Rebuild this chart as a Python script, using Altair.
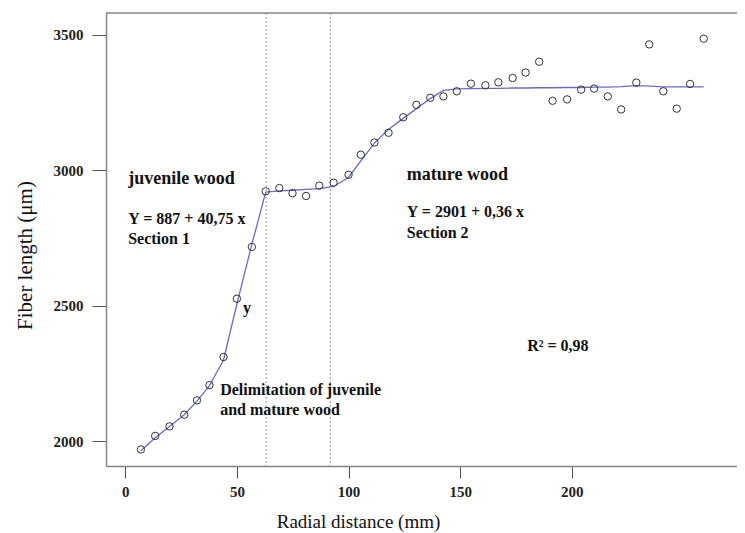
import altair as alt
import pandas as pd

# ---- data ----
radial_mm = [7.0, 13.4, 19.8, 26.4, 32.1, 37.7, 44.0, 50.0, 56.7, 62.9,
             69.0, 74.9, 81.0, 86.9, 93.3, 100.0, 105.5, 111.6, 117.9, 124.5,
             130.4, 136.6, 142.5, 148.5, 154.8, 161.3, 167.1, 173.5, 179.3, 185.4,
             191.4, 197.9, 204.2, 210.0, 216.1, 222.1, 228.9, 234.7, 241.0, 247.0,
             253.0, 259.1]
fiber_um = [1970, 2020, 2055, 2098, 2151, 2207, 2311, 2526, 2717, 2922,
            2934, 2915, 2905, 2943, 2954, 2983, 3057, 3102, 3138, 3195,
            3241, 3267, 3272, 3291, 3319, 3313, 3324, 3340, 3360, 3400,
            3256, 3261, 3297, 3301, 3272, 3224, 3323, 3464, 3291, 3227,
            3318, 3485]
fitted_um = [1965, 2013, 2055, 2098, 2148, 2205, 2300, 2507, 2727, 2919,
             2924, 2926, 2929, 2932, 2940, 2973, 3034, 3100, 3150, 3191,
             3227, 3264, 3294, 3300, 3301, 3302, 3302, 3303, 3303, 3304,
             3304, 3305, 3305, 3306, 3306, 3308, 3312, 3310, 3307, 3307,
             3307, 3307]
delimitation_mm = [63.1, 91.8]

x_ticks = [0, 50, 100, 150, 200]
y_ticks = [2000, 2500, 3000, 3500]

big_labels = ["juvenile wood", "mature wood"]
big_x = [1.3, 126.1]
big_y = [2950, 2965]

small_labels = ["Y = 887 + 40,75 x", "Section 1", "y", "Delimitation of juvenile",
                "and mature wood", "Y = 2901 + 0,36 x", "Section 2", "R\u00b2 = 0,98"]
small_x = [1.3, 1.3, 52.7, 42.5, 42.5, 126.1, 126.1, 180.0]
small_y = [2800, 2729, 2472, 2172, 2096, 2827, 2748, 2332]

W, H = 631, 453
FONT = "Liberation Serif"

pts = pd.DataFrame({"x": radial_mm, "y": fiber_um})
fit = pd.DataFrame({"x": radial_mm, "y": fitted_um})
vl = pd.DataFrame({"x": delimitation_mm})
bigdf = pd.DataFrame({"x": big_x, "y": big_y, "t": big_labels})
smalldf = pd.DataFrame({"x": small_x, "y": small_y, "t": small_labels})

xscale = alt.Scale(domain=[-8.64, 274.0], nice=False, zero=False)
yscale = alt.Scale(domain=[1908.9, 3579.7], nice=False, zero=False)

xaxis = alt.Axis(values=x_ticks, format="d", title="Radial distance (mm)", grid=False,
                 domainColor="#858585", domainWidth=1.5, tickColor="#555",
                 tickSize=12, tickWidth=1, labelFont=FONT, labelFontSize=15,
                 labelFontWeight="bold", labelColor="#222", labelPadding=6,
                 titleFont=FONT, titleFontSize=19, titleFontWeight="normal",
                 titleColor="#111", titleX=252, titleY=55, titleAlign="center",
                 titleBaseline="middle")
yaxis = alt.Axis(values=y_ticks, format="d", title="Fiber length (\u03bcm)", grid=False,
                 domainColor="#858585", domainWidth=1.5, tickColor="#555",
                 tickSize=14, tickWidth=1, labelFont=FONT, labelFontSize=15,
                 labelFontWeight="bold", labelColor="#222", labelPadding=9,
                 titleFont=FONT, titleFontSize=21, titleFontWeight="normal",
                 titleColor="#111", titleX=-81, titleY=242, titleAlign="center",
                 titleBaseline="middle", titleAngle=270)

points = alt.Chart(pts).mark_point(shape="circle", filled=False, color="#333",
                                   size=55, strokeWidth=1, opacity=1).encode(
    x=alt.X("x:Q", scale=xscale, axis=xaxis),
    y=alt.Y("y:Q", scale=yscale, axis=yaxis),
)

line = alt.Chart(fit).mark_line(color="#6b6bc6", strokeWidth=1.3).encode(
    x=alt.X("x:Q", scale=xscale), y=alt.Y("y:Q", scale=yscale))

vlines = alt.Chart(vl).mark_rule(color="#9a9a9a", strokeDash=[2, 2], strokeWidth=1).encode(
    x=alt.X("x:Q", scale=xscale))

topline = alt.Chart(pd.DataFrame({"a": [0]})).mark_rule(color="#858585", strokeWidth=1.5).encode(
    y=alt.value(0), x=alt.value(0), x2=alt.value(W))

bigtext = alt.Chart(bigdf).mark_text(align="left", baseline="alphabetic", font=FONT,
                                     fontWeight="bold", fontSize=18, color="#111").encode(
    x=alt.X("x:Q", scale=xscale), y=alt.Y("y:Q", scale=yscale), text="t:N")

smalltext = alt.Chart(smalldf).mark_text(align="left", baseline="alphabetic", font=FONT,
                                         fontWeight="bold", fontSize=16, color="#111").encode(
    x=alt.X("x:Q", scale=xscale), y=alt.Y("y:Q", scale=yscale), text="t:N")

chart = alt.layer(vlines, line, points, topline, bigtext, smalltext).properties(
    width=W, height=H,
    autosize=alt.AutoSizeParams(type="none"),
    padding={"left": 98, "top": 5, "right": 0, "bottom": 66},
    background="white",
).configure_view(stroke=None)

chart.save("out.html", embed_options={"renderer": "svg", "actions": False})
